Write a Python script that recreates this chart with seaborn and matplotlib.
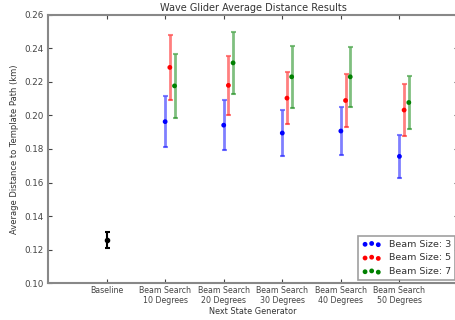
import matplotlib
matplotlib.use("Agg")
import matplotlib.pyplot as plt
import seaborn as sns
import numpy as np
import pandas as pd

categories = ["Baseline", "Beam Search\n10 Degrees", "Beam Search\n20 Degrees",
              "Beam Search\n30 Degrees", "Beam Search\n40 Degrees", "Beam Search\n50 Degrees"]
baseline_mean = [0.1258]
baseline_err = [0.0047]
beam_sizes = ["3", "5", "7"]
means_3 = [0.1963, 0.1942, 0.1895, 0.1907, 0.1756]
errs_3 = [0.0153, 0.0150, 0.0137, 0.0144, 0.0127]
means_5 = [0.2286, 0.2179, 0.2103, 0.2089, 0.2032]
errs_5 = [0.0196, 0.0174, 0.0153, 0.0158, 0.0155]
means_7 = [0.2176, 0.2313, 0.2230, 0.2230, 0.2077]
errs_7 = [0.0189, 0.0183, 0.0183, 0.0177, 0.0160]
yticks = [0.10, 0.12, 0.14, 0.16, 0.18, 0.20, 0.22, 0.24, 0.26]

sns.set_style("ticks")
plt.rcParams['font.family'] = ['DejaVu Sans']

fig = plt.figure(figsize=(4.55, 3.2), dpi=100)
ax = fig.add_axes([48/455, 1-283.3/320, 410/455, (283.3-14.7)/320])

colors = ["#0000ff", "#ff0000", "#008000"]
offsets = [0.0, 0.08, 0.16]
series = [(means_3, errs_3), (means_5, errs_5), (means_7, errs_7)]

for bs, (m, e), off, c in zip(beam_sizes, series, offsets, colors):
    g = pd.DataFrame({"x": np.arange(len(m)) + 2 + off, "mean": m, "err": e})
    ax.errorbar(g["x"], g["mean"], yerr=g["err"], fmt="none", ecolor=c,
                elinewidth=2, capsize=1.8, capthick=1.5, alpha=0.5)
    sns.scatterplot(data=g, x="x", y="mean", color=c, s=12, edgecolor="none",
                    ax=ax, zorder=3, label="Beam Size: " + bs)

ax.errorbar([1], baseline_mean, yerr=baseline_err, fmt="none", ecolor="black",
            elinewidth=1.5, capsize=1.8, capthick=1.5)
ax.scatter([1], baseline_mean, color="black", s=9, zorder=3)

ax.set_xlim(0, 7)
ax.set_ylim(0.10, 0.26)
ax.set_xticks(range(1, 7))
ax.set_xticklabels(categories)
ax.set_yticks(yticks)
ax.set_yticklabels([f"{v:.2f}" for v in yticks])
ax.tick_params(direction="in", top=True, right=True, labelsize=6.3,
               colors="#444444", length=3, width=0.8, pad=3)
ax.tick_params(axis="x", labelsize=5.7, pad=2)
for sp in ax.spines.values():
    sp.set_color("#888888")
    sp.set_linewidth(1.5)
ax.set_xlabel("Next State Generator", fontsize=5.9, color="#333333", labelpad=1)
ax.set_ylabel("Average Distance to Template Path (km)", fontsize=6.0, color="#333333", labelpad=4)
ax.set_title("Wave Glider Average Distance Results", fontsize=7, color="#333333", pad=3)

leg = ax.legend(loc="lower right", fontsize=6.8, scatterpoints=3, markerscale=1.0,
                frameon=True, fancybox=False, borderaxespad=0.35, handletextpad=0.8)
leg.get_frame().set_edgecolor("#888888")
leg.get_frame().set_linewidth(1.2)
for t in leg.get_texts():
    t.set_color("#333333")

fig.savefig("out.png", dpi=100)
